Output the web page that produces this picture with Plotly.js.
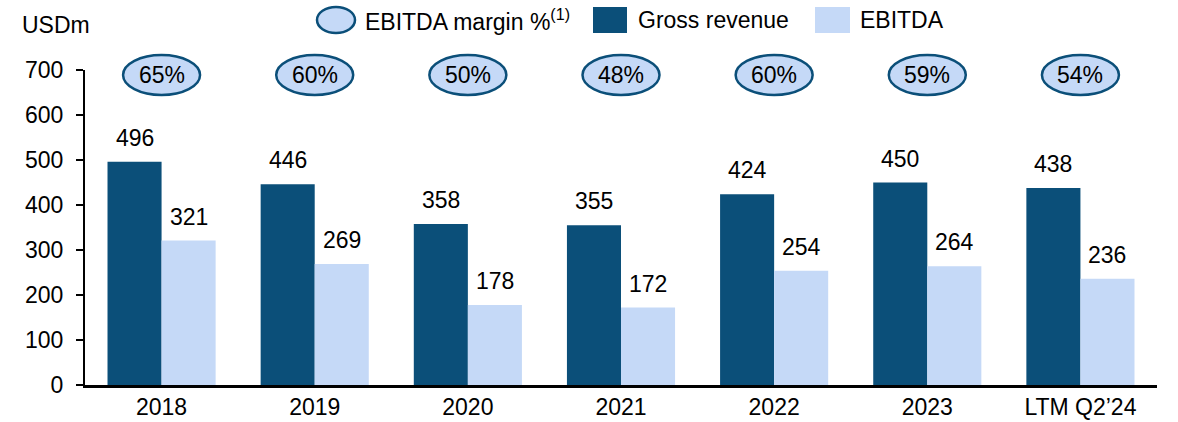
<!DOCTYPE html>
<html>
<head>
<meta charset="utf-8">
<script src="https://cdn.plot.ly/plotly-3.0.1.min.js"></script>
<style>html,body{margin:0;padding:0;background:#fff;}#chart{width:1178px;height:422px;}</style>
</head>
<body>
<div id="chart"></div>
<script>
const categories = ["2018", "2019", "2020", "2021", "2022", "2023", "LTM Q2\u201924"];
const grossRevenue = [496, 446, 358, 355, 424, 450, 438];
const ebitda = [321, 269, 178, 172, 254, 264, 236];
const ebitdaMargin = [65, 60, 50, 48, 60, 59, 54];
const yTicks = [0, 100, 200, 300, 400, 500, 600, 700];

const DARK = "#0B4F79";
const LIGHT = "#C5D9F7";
const FONT = "Liberation Sans, Arial, sans-serif";
const FS = 23;

// plot area in pixels
const L = 85, R = 1157, T = 70, B = 385;
const px2x = p => (p - L) / (R - L);
const px2y = p => (B - p) / (B - T);

const traces = [
  {type: "bar", name: "Gross revenue", x: categories, y: grossRevenue,
   marker: {color: DARK, line: {width: 0}}, hoverinfo: "x+y"},
  {type: "bar", name: "EBITDA", x: categories, y: ebitda,
   marker: {color: LIGHT, line: {width: 0}}, hoverinfo: "x+y"}
];

const shapes = [];
const annotations = [];

// bar value labels
categories.forEach((c, i) => {
  annotations.push({x: i, xref: "x", y: grossRevenue[i], yref: "y", xshift: -27, yshift: 24,
    text: String(grossRevenue[i]), showarrow: false, yanchor: "middle", xanchor: "center",
    font: {family: FONT, size: FS, color: "#000"}});
  annotations.push({x: i, xref: "x", y: ebitda[i], yref: "y", xshift: 27, yshift: 24,
    text: String(ebitda[i]), showarrow: false, yanchor: "middle", xanchor: "center",
    font: {family: FONT, size: FS, color: "#000"}});
});

// margin ellipses
const ellY = px2y(75);
categories.forEach((c, i) => {
  shapes.push({type: "circle", xref: "x", yref: "paper", xsizemode: "pixel", ysizemode: "pixel",
    xanchor: i, yanchor: ellY, x0: -38.5, x1: 38.5, y0: -20, y1: 20,
    fillcolor: LIGHT, line: {color: DARK, width: 2.5}, layer: "above"});
  annotations.push({x: i, xref: "x", y: ellY, yref: "paper", text: ebitdaMargin[i] + "%",
    showarrow: false, xanchor: "center", yanchor: "middle",
    font: {family: FONT, size: FS, color: "#000"}});
});

// legend (manual)
shapes.push({type: "circle", xref: "paper", yref: "paper",
  x0: px2x(317), x1: px2x(355), y0: px2y(33), y1: px2y(7),
  fillcolor: LIGHT, line: {color: DARK, width: 2.5}});
annotations.push({xref: "paper", yref: "paper", x: px2x(363), y: px2y(20), xanchor: "left", yanchor: "middle",
  text: "EBITDA margin %<sup>(1)</sup>", showarrow: false, font: {family: FONT, size: FS, color: "#000"}});
shapes.push({type: "rect", xref: "paper", yref: "paper",
  x0: px2x(593), x1: px2x(627), y0: px2y(33), y1: px2y(7),
  fillcolor: DARK, line: {width: 0}});
annotations.push({xref: "paper", yref: "paper", x: px2x(636), y: px2y(20), xanchor: "left", yanchor: "middle",
  text: "Gross revenue", showarrow: false, font: {family: FONT, size: FS, color: "#000"}});
shapes.push({type: "rect", xref: "paper", yref: "paper",
  x0: px2x(815), x1: px2x(850), y0: px2y(33), y1: px2y(7),
  fillcolor: LIGHT, line: {width: 0}});
annotations.push({xref: "paper", yref: "paper", x: px2x(858), y: px2y(20), xanchor: "left", yanchor: "middle",
  text: "EBITDA", showarrow: false, font: {family: FONT, size: FS, color: "#000"}});

// unit label
annotations.push({xref: "paper", yref: "paper", x: px2x(20), y: px2y(25), xanchor: "left", yanchor: "middle",
  text: "USDm", showarrow: false, font: {family: FONT, size: FS, color: "#000"}});

const layout = {
  width: 1178, height: 422,
  margin: {l: L, r: 1178 - R, t: T, b: 422 - B, pad: 0},
  paper_bgcolor: "#fff", plot_bgcolor: "#fff",
  font: {family: FONT, size: FS, color: "#000"},
  showlegend: false,
  barmode: "group", bargap: 0.294, bargroupgap: 0,
  xaxis: {type: "category", range: [-0.5, 6.5], showline: true, linecolor: "#000", linewidth: 2.5,
    ticks: "", showgrid: false, zeroline: false, tickfont: {family: FONT, size: FS, color: "#000"},
    fixedrange: true},
  yaxis: {range: [0, 700], tickvals: yTicks, ticktext: yTicks.map(String), showline: true, linecolor: "#000",
    linewidth: 2, ticks: "outside", ticklen: 7, tickwidth: 2, tickcolor: "#000", showgrid: false,
    zeroline: false, tickfont: {family: FONT, size: FS, color: "#000"}, ticklabelstandoff: 8, fixedrange: true},
  shapes: shapes,
  annotations: annotations
};

Plotly.newPlot("chart", traces, layout, {displayModeBar: false, staticPlot: true});
</script>
</body>
</html>
